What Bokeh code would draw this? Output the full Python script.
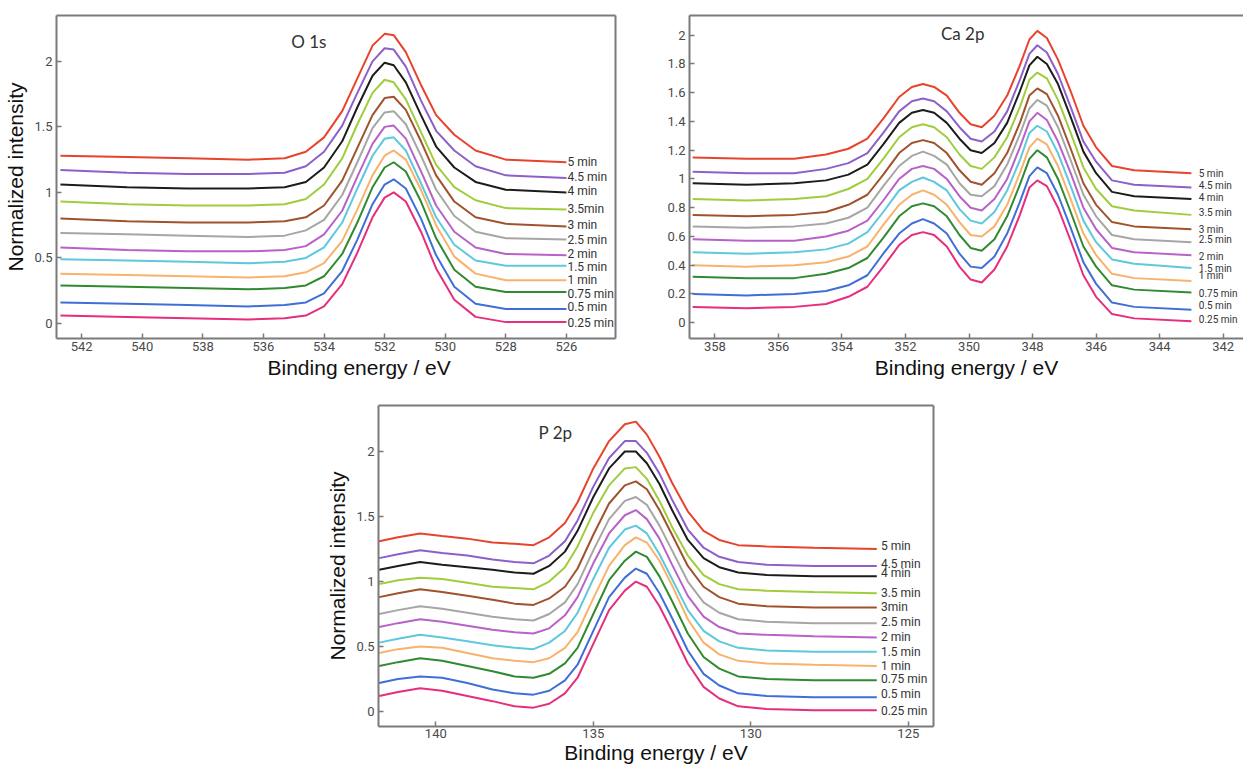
from bokeh.plotting import figure
from bokeh.models import Range1d, FixedTicker, Label, Spacer, LinearAxis, ColumnDataSource, Title
from bokeh.layouts import row, column
from bokeh.embed import file_html
from bokeh.resources import INLINE
from bokeh.core.properties import value

# ---------------- shared series info (bottom -> top) ----------------
TIMES = ["0.25 min", "0.5 min", "0.75 min", "1 min", "1.5 min", "2 min",
         "2.5 min", "3 min", "3.5 min", "4 min", "4.5 min", "5 min"]
COLORS = ["#e62e7d", "#3f6fd6", "#2f8a30", "#f8b26c", "#5ec8dc", "#b862c8",
          "#a6a6a6", "#a0522d", "#9fcd3c", "#1c1c1c", "#8c60c8", "#e8432c"]

# ---------------- O 1s ----------------
O1S_X = [542.7, 540.5, 538.5, 536.5, 535.3, 534.6, 534.0, 533.4, 532.9, 532.4,
         532.0, 531.7, 531.3, 530.8, 530.3, 529.7, 529.0, 528.0, 526.0]
O1S_025 = [0.06, 0.05, 0.04, 0.03, 0.04, 0.06, 0.13, 0.30, 0.54, 0.81, 0.96, 1.00, 0.93, 0.70, 0.42, 0.18, 0.05, 0.01, 0.01]
O1S_05 = [0.16, 0.15, 0.14, 0.13, 0.14, 0.16, 0.23, 0.40, 0.64, 0.91, 1.06, 1.10, 1.03, 0.80, 0.52, 0.28, 0.15, 0.11, 0.11]
O1S_075 = [0.29, 0.28, 0.27, 0.26, 0.27, 0.29, 0.36, 0.53, 0.77, 1.04, 1.19, 1.23, 1.16, 0.93, 0.65, 0.41, 0.28, 0.24, 0.24]
O1S_1 = [0.38, 0.37, 0.36, 0.35, 0.36, 0.39, 0.46, 0.63, 0.87, 1.13, 1.28, 1.32, 1.25, 1.02, 0.75, 0.51, 0.38, 0.33, 0.33]
O1S_15 = [0.49, 0.48, 0.47, 0.46, 0.47, 0.50, 0.58, 0.77, 1.03, 1.28, 1.41, 1.42, 1.32, 1.07, 0.81, 0.60, 0.48, 0.44, 0.44]
O1S_2 = [0.58, 0.56, 0.55, 0.55, 0.56, 0.59, 0.68, 0.86, 1.12, 1.37, 1.50, 1.51, 1.41, 1.16, 0.90, 0.70, 0.58, 0.53, 0.52]
O1S_25 = [0.69, 0.68, 0.67, 0.66, 0.67, 0.71, 0.79, 0.98, 1.23, 1.49, 1.61, 1.62, 1.52, 1.28, 1.02, 0.82, 0.70, 0.65, 0.64]
O1S_3 = [0.80, 0.78, 0.77, 0.77, 0.78, 0.81, 0.90, 1.09, 1.34, 1.59, 1.72, 1.73, 1.63, 1.39, 1.13, 0.93, 0.81, 0.76, 0.74]
O1S_35 = [0.93, 0.91, 0.90, 0.90, 0.91, 0.95, 1.06, 1.26, 1.52, 1.76, 1.86, 1.84, 1.71, 1.46, 1.21, 1.04, 0.94, 0.88, 0.87]
O1S_4 = [1.06, 1.04, 1.03, 1.03, 1.04, 1.08, 1.19, 1.39, 1.65, 1.89, 1.99, 1.97, 1.84, 1.59, 1.35, 1.19, 1.08, 1.02, 1.00]
O1S_45 = [1.17, 1.15, 1.14, 1.14, 1.15, 1.20, 1.31, 1.51, 1.76, 2.00, 2.10, 2.09, 1.96, 1.70, 1.47, 1.32, 1.20, 1.13, 1.11]
O1S_5 = [1.28, 1.27, 1.26, 1.25, 1.26, 1.31, 1.42, 1.62, 1.87, 2.12, 2.21, 2.20, 2.07, 1.82, 1.59, 1.44, 1.32, 1.25, 1.23]
O1S_SERIES = [O1S_025, O1S_05, O1S_075, O1S_1, O1S_15, O1S_2, O1S_25, O1S_3, O1S_35, O1S_4, O1S_45, O1S_5]
O1S_TEXT = ["0.25 min", "0.5 min", "0.75 min", "1 min", "1.5 min", "2 min",
            "2.5 min", "3 min", "3.5min", "4 min", "4.5 min", "5 min"]
O1S_TEXT_Y = [0.0, 0.123, 0.227, 0.334, 0.434, 0.533, 0.64, 0.754, 0.876, 1.008, 1.12, 1.23]
O1S_XTICKS = [542, 540, 538, 536, 534, 532, 530, 528, 526]
O1S_XTICK_LABELS = ["542", "540", "538", "536", "534", "532", "530", "528", "526"]
O1S_YTICKS = [0, 0.5, 1, 1.5, 2]
O1S_YTICK_LABELS = ["0", "0.5", "1", "1.5", "2"]

# ---------------- Ca 2p ----------------
CA_X = [358.7, 357.0, 355.5, 354.5, 353.8, 353.2, 352.7, 352.2, 351.8, 351.45,
        351.1, 350.7, 350.3, 349.95, 349.6, 349.2, 348.8, 348.4, 348.1, 347.85,
        347.55, 347.2, 346.8, 346.4, 346.0, 345.5, 344.8, 343.0]
CA_025 = [0.11, 0.10, 0.11, 0.13, 0.18, 0.25, 0.39, 0.54, 0.61, 0.63, 0.61, 0.53, 0.39, 0.30, 0.28, 0.37, 0.53, 0.75, 0.94, 0.99, 0.95, 0.80, 0.57, 0.33, 0.18, 0.06, 0.03, 0.01]
CA_05 = [0.20, 0.19, 0.20, 0.22, 0.26, 0.33, 0.48, 0.62, 0.69, 0.72, 0.69, 0.62, 0.48, 0.39, 0.38, 0.46, 0.62, 0.84, 1.02, 1.08, 1.04, 0.89, 0.66, 0.42, 0.27, 0.14, 0.11, 0.09]
CA_075 = [0.32, 0.31, 0.31, 0.34, 0.38, 0.45, 0.59, 0.74, 0.81, 0.83, 0.81, 0.74, 0.61, 0.52, 0.50, 0.58, 0.74, 0.96, 1.14, 1.20, 1.15, 1.00, 0.77, 0.53, 0.39, 0.26, 0.23, 0.21]
CA_1 = [0.40, 0.39, 0.40, 0.42, 0.46, 0.53, 0.68, 0.82, 0.89, 0.92, 0.89, 0.82, 0.70, 0.61, 0.60, 0.67, 0.82, 1.04, 1.22, 1.28, 1.24, 1.09, 0.86, 0.62, 0.47, 0.34, 0.31, 0.29]
CA_15 = [0.49, 0.48, 0.49, 0.51, 0.55, 0.63, 0.77, 0.92, 0.98, 1.01, 0.98, 0.92, 0.79, 0.71, 0.69, 0.77, 0.92, 1.13, 1.32, 1.37, 1.33, 1.18, 0.95, 0.71, 0.56, 0.44, 0.41, 0.38]
CA_2 = [0.58, 0.57, 0.57, 0.60, 0.64, 0.71, 0.85, 1.00, 1.07, 1.09, 1.07, 1.00, 0.88, 0.80, 0.78, 0.86, 1.00, 1.22, 1.40, 1.46, 1.41, 1.26, 1.04, 0.80, 0.65, 0.52, 0.49, 0.47]
CA_25 = [0.67, 0.66, 0.67, 0.69, 0.73, 0.80, 0.95, 1.09, 1.16, 1.19, 1.16, 1.10, 0.97, 0.89, 0.88, 0.95, 1.10, 1.31, 1.49, 1.55, 1.51, 1.36, 1.13, 0.89, 0.74, 0.61, 0.58, 0.56]
CA_3 = [0.75, 0.74, 0.75, 0.77, 0.82, 0.89, 1.03, 1.18, 1.25, 1.27, 1.25, 1.18, 1.06, 0.98, 0.96, 1.04, 1.18, 1.39, 1.58, 1.63, 1.59, 1.44, 1.21, 0.97, 0.82, 0.70, 0.67, 0.65]
CA_35 = [0.86, 0.85, 0.86, 0.88, 0.93, 1.00, 1.14, 1.29, 1.36, 1.38, 1.36, 1.29, 1.17, 1.09, 1.07, 1.15, 1.29, 1.50, 1.69, 1.74, 1.70, 1.55, 1.32, 1.08, 0.93, 0.81, 0.78, 0.75]
CA_4 = [0.97, 0.96, 0.97, 0.99, 1.03, 1.10, 1.24, 1.39, 1.46, 1.48, 1.46, 1.39, 1.28, 1.20, 1.18, 1.25, 1.39, 1.61, 1.79, 1.85, 1.80, 1.66, 1.43, 1.19, 1.04, 0.91, 0.88, 0.86]
CA_45 = [1.05, 1.04, 1.04, 1.07, 1.11, 1.18, 1.32, 1.47, 1.54, 1.56, 1.54, 1.47, 1.36, 1.28, 1.26, 1.33, 1.47, 1.69, 1.87, 1.93, 1.88, 1.73, 1.50, 1.26, 1.12, 0.99, 0.96, 0.94]
CA_5 = [1.15, 1.14, 1.14, 1.17, 1.21, 1.28, 1.42, 1.57, 1.64, 1.66, 1.64, 1.58, 1.46, 1.38, 1.36, 1.44, 1.58, 1.79, 1.97, 2.03, 1.98, 1.83, 1.61, 1.37, 1.22, 1.09, 1.06, 1.04]
CA_SERIES = [CA_025, CA_05, CA_075, CA_1, CA_15, CA_2, CA_25, CA_3, CA_35, CA_4, CA_45, CA_5]
CA_TEXT = ["0.25 min", "0.5 min", "0.75 min", "1 min", "1.5 min", "2 min",
           "2.5 min", "3 min", "3.5 min", "4 min", "4.5 min", "5 min"]
CA_TEXT_Y = [0.022, 0.118, 0.201, 0.325, 0.378, 0.462, 0.576, 0.651, 0.765, 0.868, 0.953, 1.04]
CA_XTICKS = [358, 356, 354, 352, 350, 348, 346, 344, 342]
CA_XTICK_LABELS = ["358", "356", "354", "352", "350", "348", "346", "344", "342"]
CA_YTICKS = [0, 0.2, 0.4, 0.6, 0.8, 1, 1.2, 1.4, 1.6, 1.8, 2]
CA_YTICK_LABELS = ["0", "0.2", "0.4", "0.6", "0.8", "1", "1.2", "1.4", "1.6", "1.8", "2"]

# ---------------- P 2p ----------------
P_X = [141.8, 141.2, 140.5, 139.8, 139.0, 138.2, 137.5, 136.9, 136.4, 135.9,
       135.5, 135.0, 134.5, 134.0, 133.65, 133.3, 132.9, 132.5, 132.0, 131.5,
       131.0, 130.4, 129.5, 128.0, 126.0]
P_025 = [0.12, 0.15, 0.18, 0.16, 0.12, 0.08, 0.04, 0.03, 0.06, 0.14, 0.26, 0.52, 0.78, 0.93, 1.00, 0.96, 0.81, 0.62, 0.37, 0.19, 0.10, 0.04, 0.02, 0.01, 0.01]
P_05 = [0.22, 0.25, 0.27, 0.26, 0.22, 0.17, 0.14, 0.13, 0.16, 0.24, 0.36, 0.62, 0.88, 1.03, 1.10, 1.06, 0.91, 0.72, 0.47, 0.29, 0.20, 0.14, 0.12, 0.11, 0.11]
P_075 = [0.35, 0.38, 0.41, 0.39, 0.35, 0.31, 0.27, 0.26, 0.29, 0.37, 0.49, 0.75, 1.01, 1.16, 1.23, 1.19, 1.04, 0.85, 0.60, 0.42, 0.33, 0.27, 0.25, 0.24, 0.24]
P_1 = [0.45, 0.48, 0.50, 0.49, 0.45, 0.41, 0.39, 0.38, 0.41, 0.49, 0.61, 0.87, 1.12, 1.28, 1.34, 1.30, 1.16, 0.97, 0.71, 0.53, 0.44, 0.39, 0.37, 0.36, 0.35]
P_15 = [0.53, 0.56, 0.59, 0.57, 0.54, 0.51, 0.49, 0.48, 0.53, 0.62, 0.76, 1.02, 1.26, 1.40, 1.43, 1.37, 1.21, 1.02, 0.78, 0.62, 0.54, 0.49, 0.47, 0.46, 0.46]
P_2 = [0.65, 0.68, 0.71, 0.69, 0.66, 0.63, 0.61, 0.60, 0.64, 0.74, 0.88, 1.14, 1.37, 1.51, 1.55, 1.48, 1.33, 1.13, 0.89, 0.73, 0.65, 0.60, 0.59, 0.58, 0.57]
P_25 = [0.75, 0.78, 0.81, 0.79, 0.76, 0.73, 0.71, 0.70, 0.75, 0.84, 0.98, 1.24, 1.48, 1.62, 1.65, 1.59, 1.43, 1.24, 1.00, 0.84, 0.76, 0.71, 0.69, 0.68, 0.68]
P_3 = [0.88, 0.91, 0.94, 0.92, 0.89, 0.86, 0.83, 0.82, 0.87, 0.96, 1.10, 1.36, 1.60, 1.74, 1.77, 1.71, 1.55, 1.36, 1.12, 0.96, 0.88, 0.83, 0.81, 0.80, 0.80]
P_35 = [0.98, 1.01, 1.03, 1.02, 0.99, 0.96, 0.95, 0.94, 1.00, 1.11, 1.27, 1.53, 1.74, 1.87, 1.88, 1.79, 1.62, 1.42, 1.20, 1.05, 0.98, 0.94, 0.93, 0.92, 0.91]
P_4 = [1.09, 1.12, 1.15, 1.13, 1.11, 1.09, 1.07, 1.06, 1.12, 1.23, 1.39, 1.65, 1.87, 2.00, 2.00, 1.91, 1.75, 1.55, 1.32, 1.18, 1.11, 1.07, 1.05, 1.04, 1.04]
P_45 = [1.18, 1.21, 1.24, 1.22, 1.20, 1.17, 1.15, 1.14, 1.20, 1.31, 1.47, 1.73, 1.95, 2.08, 2.08, 1.99, 1.83, 1.63, 1.40, 1.26, 1.19, 1.15, 1.13, 1.12, 1.12]
P_5 = [1.31, 1.34, 1.37, 1.35, 1.33, 1.30, 1.29, 1.28, 1.34, 1.45, 1.61, 1.87, 2.08, 2.21, 2.23, 2.13, 1.96, 1.76, 1.54, 1.39, 1.32, 1.28, 1.27, 1.26, 1.25]
P_SERIES = [P_025, P_05, P_075, P_1, P_15, P_2, P_25, P_3, P_35, P_4, P_45, P_5]
P_TEXT = ["0.25 min", "0.5 min", "0.75 min", "1 min", "1.5 min", "2 min",
          "2.5 min", "3min", "3.5 min", "4 min", "4.5 min", "5 min"]
P_TEXT_Y = [0.008, 0.136, 0.251, 0.354, 0.456, 0.571, 0.687, 0.802, 0.913, 1.064, 1.136, 1.272]
P_XTICKS = [140, 135, 130, 125]
P_XTICK_LABELS = ["140", "135", "130", "125"]
P_YTICKS = [0, 0.5, 1, 1.5, 2]
P_YTICK_LABELS = ["0", "0.5", "1", "1.5", "2"]

X_TITLE = "Binding energy / eV"
Y_TITLE = "Normalized intensity"

FRAME = "#7a7a7a"
TICK_FONT = "Roboto"
LABEL_FONT = "Liberation Sans"
TITLE_FONT = "Lato"
LABEL_SIZE = "21px"


def style_axis(ax, ticks, labels):
    ax.ticker = FixedTicker(ticks=ticks)
    ax.major_label_overrides = {t: s for t, s in zip(ticks, labels)}
    ax.axis_line_color = FRAME
    ax.axis_line_width = 2
    ax.major_tick_in = 5
    ax.major_tick_out = 0
    ax.minor_tick_in = 0
    ax.minor_tick_out = 0
    ax.major_tick_line_color = FRAME
    ax.major_tick_line_width = 1.5
    ax.major_label_text_font = TICK_FONT
    ax.major_label_text_font_size = "13px"
    ax.major_label_text_color = "#4a4a4a"
    ax.axis_label_text_font = LABEL_FONT
    ax.axis_label_text_font_size = LABEL_SIZE
    ax.axis_label_text_font_style = "normal"
    ax.axis_label_text_color = "#111111"


def frame_axis():
    return LinearAxis(ticker=FixedTicker(ticks=[]), axis_line_color=FRAME, axis_line_width=2,
                      major_tick_in=0, major_tick_out=0, minor_tick_in=0, minor_tick_out=0,
                      major_label_text_font_size="0px")


def panel(xs, series, texts, text_y, text_x, xr, yr, xticks, xlabels, yticks, ylabels,
          title, title_xy, width, height, borders, ylabel, close_right=True,
          xtitle_left=None, text_size="12px", x_std=(3, 3)):
    p = figure(width=width, height=height, output_backend="svg", toolbar_location=None,
               x_range=Range1d(*xr), y_range=Range1d(*yr),
               min_border_left=borders[0], min_border_right=borders[1],
               min_border_top=borders[2], min_border_bottom=borders[3])
    p.grid.visible = False
    p.background_fill_color = "white"
    p.border_fill_color = "white"
    p.outline_line_color = None
    style_axis(p.xaxis[0], xticks, xlabels)
    style_axis(p.yaxis[0], yticks, ylabels)
    p.xaxis.major_label_standoff = x_std[0]
    p.yaxis.major_label_standoff = 4
    p.yaxis.axis_label_standoff = 4
    if xtitle_left is not None:
        p.add_layout(Title(text=X_TITLE, align="left", offset=xtitle_left, standoff=1,
                           text_font=LABEL_FONT, text_font_size=LABEL_SIZE,
                           text_font_style="normal", text_color="#111111"), "below")
    else:
        p.xaxis.axis_label = X_TITLE
        p.xaxis.axis_label_standoff = x_std[1]
    if ylabel:
        p.yaxis.axis_label = ylabel
    p.add_layout(frame_axis(), "above")
    if close_right:
        p.add_layout(frame_axis(), "right")
    # draw top series first so lower ones sit above them
    for ys, c in reversed(list(zip(series, COLORS))):
        p.line(xs, ys, line_color=c, line_width=2)
    src = ColumnDataSource(dict(x=[text_x] * len(texts), y=text_y, t=texts))
    p.text(x="x", y="y", text="t", source=src, text_font=value(TICK_FONT),
           text_font_size=text_size, text_color="#333333", text_baseline="middle",
           text_align="left", x_offset=1)
    p.add_layout(Label(x=title_xy[0], y=title_xy[1], text=title, text_align="center",
                       text_baseline="middle", text_font=TITLE_FONT,
                       text_font_size="17px", text_color="#333333"))
    return p


p1 = panel(O1S_X, O1S_SERIES, O1S_TEXT, O1S_TEXT_Y, 526.0, (542.83, 524.38), (-0.115, 2.35),
           O1S_XTICKS, O1S_XTICK_LABELS, O1S_YTICKS, O1S_YTICK_LABELS,
           "O 1s", (534.5, 2.15), 630, 385, (56, 15, 15, 47), Y_TITLE, xtitle_left=211)
p2 = panel(CA_X, CA_SERIES, CA_TEXT, CA_TEXT_Y, 342.8, (358.8, 341.36), (-0.11, 2.137),
           CA_XTICKS, CA_XTICK_LABELS, CA_YTICKS, CA_YTICK_LABELS,
           "Ca 2p", (350.2, 2.01), 613, 385, (59, 0, 12, 46), None, close_right=False,
           text_size="10px", x_std=(3, 2))
p3 = panel(P_X, P_SERIES, P_TEXT, P_TEXT_Y, 125.9, (141.82, 124.2), (-0.115, 2.354),
           P_XTICKS, P_XTICK_LABELS, P_YTICKS, P_YTICK_LABELS,
           "P 2p", (136.2, 2.15), 630, 382, (58, 17, 20, 41), Y_TITLE, x_std=(2, 0))

layout = column(row(p1, p2, spacing=0), row(Spacer(width=320, height=382), p3, spacing=0), spacing=0)

open("out.html", "w").write(file_html(layout, INLINE))
